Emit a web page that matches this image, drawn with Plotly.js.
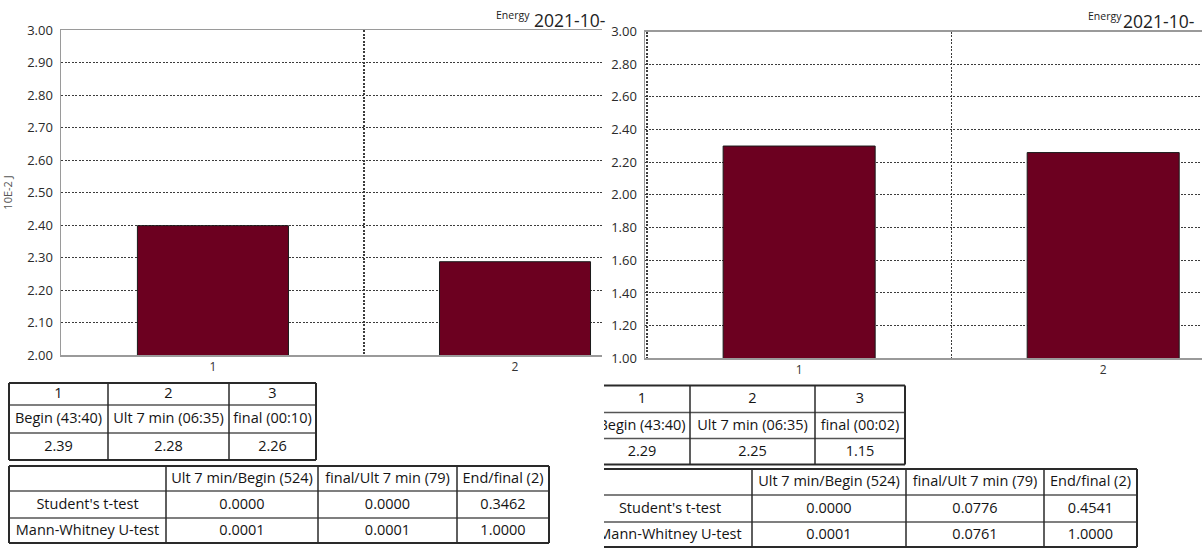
<!DOCTYPE html>
<html>
<head>
<meta charset="utf-8">
<script src="https://cdn.plot.ly/plotly-3.0.1.min.js"></script>
<style>html,body{margin:0;padding:0;background:#fff;}#chart{width:1202px;height:548px;}</style>
</head>
<body>
<div id="chart"></div>
<script>
// ---------- data ----------
const categories = ["1", "2"];
const leftBarValues = [2.398, 2.287];
const rightBarValues = [2.299, 2.259];

const phaseHeader = ["1", "2", "3"];
const leftPhases = ["Begin (43:40)", "Ult 7 min (06:35)", "final (00:10)"];
const leftMeans = ["2.39", "2.28", "2.26"];
const rightPhases = ["Begin (43:40)", "Ult 7 min (06:35)", "final (00:02)"];
const rightMeans = ["2.29", "2.25", "1.15"];

const testColumns = ["Ult 7 min/Begin (524)", "final/Ult 7 min (79)", "End/final (2)"];
const testNames = ["Student's t-test", "Mann-Whitney U-test"];
const leftTTest = ["0.0000", "0.0000", "0.3462"];
const leftUTest = ["0.0001", "0.0001", "1.0000"];
const rightTTest = ["0.0000", "0.0776", "0.4541"];
const rightUTest = ["0.0001", "0.0761", "1.0000"];

const yTitle = "10E-2 J";
const titleSmall = "Energy";
const titleBig = "2021-10-";

// ---------- layout helpers ----------
const W = 1202, H = 548;
const px = x => x / W;
const py = y => 1 - y / H;
const FONT = "Open Sans, Noto Sans, sans-serif";
const barColor = "#6c0020";
const gridColor = "#3c3c3c";
const lineColor = "#9a9a9a";
const gridDash = "2px,1.5px";

const shapes = [];
const traces = [];

traces.push({
  type: "bar", x: categories, y: leftBarValues, xaxis: "x", yaxis: "y",
  width: 0.5, marker: {color: barColor, line: {color: "#1a1a1a", width: 1}},
  hoverinfo: "skip", showlegend: false
});
traces.push({
  type: "bar", x: categories, y: rightBarValues, xaxis: "x2", yaxis: "y2",
  width: 0.5, marker: {color: barColor, line: {color: "#1a1a1a", width: 1}},
  hoverinfo: "skip", showlegend: false
});

function addTable(cols, rows, cells, xa, ya) {
  const nR = rows.length - 1, nC = cols.length - 1;
  rows.forEach((y, i) => {
    const outer = (i === 0 || i === nR);
    shapes.push({type: "line", xref: xa, yref: ya, x0: cols[0], x1: cols[nC], y0: y, y1: y,
      line: {color: outer ? "#2a2a2a" : "#555", width: outer ? 2 : 1.5}, layer: "above"});
  });
  cols.forEach((x, j) => {
    const outer = (j === 0 || j === nC);
    shapes.push({type: "line", xref: xa, yref: ya, x0: x, x1: x, y0: rows[0], y1: rows[nR],
      line: {color: "#2a2a2a", width: outer ? 2 : 1.5}, layer: "above"});
  });
  const tx = [], ty = [], tt = [];
  cells.forEach((row, i) => {
    row.forEach((txt, j) => {
      tx.push((cols[j] + cols[j + 1]) / 2);
      ty.push((rows[i] + rows[i + 1]) / 2 + 0.5);
      tt.push(txt);
    });
  });
  traces.push({
    type: "scatter", mode: "text", x: tx, y: ty, text: tt, xaxis: xa, yaxis: ya,
    textposition: "middle center", cliponaxis: true,
    textfont: {family: FONT, size: 14.5, color: "#141414"},
    hoverinfo: "skip", showlegend: false
  });
}

// left tables
addTable([9, 108, 229, 316], [383, 405, 433, 460],
  [phaseHeader, leftPhases, leftMeans], "x3", "y3");
addTable([9, 166, 318, 457, 549], [466, 491, 518, 543],
  [[""].concat(testColumns), [testNames[0]].concat(leftTTest), [testNames[1]].concat(leftUTest)], "x3", "y3");
// right tables
addTable([594, 690, 815, 905], [385.5, 412.5, 438.5, 464.5],
  [phaseHeader, rightPhases, rightMeans], "x4", "y4");
addTable([588, 752, 906, 1044, 1137], [469, 495, 522, 547],
  [[""].concat(testColumns), [testNames[0]].concat(rightTTest), [testNames[1]].concat(rightUTest)], "x4", "y4");

function xAxis(domain, range, anchor) {
  return {
    domain: domain, range: range, type: "category", tickson: "boundaries",
    showgrid: true, gridcolor: gridColor, griddash: gridDash, gridwidth: 1.3,
    showline: true, mirror: true, linecolor: lineColor, linewidth: 1.5,
    ticks: "", zeroline: false, anchor: anchor, fixedrange: true,
    tickfont: {family: FONT, size: 12, color: "#333"}
  };
}
function yAxis(domain, range, dtick, anchor, title) {
  const a = {
    domain: domain, range: range, tick0: range[0], dtick: dtick, tickformat: ".2f",
    showgrid: true, gridcolor: gridColor, griddash: gridDash, gridwidth: 1,
    showline: true, linecolor: lineColor, linewidth: 1.5, zeroline: false,
    ticks: "", ticklabelstandoff: 4, anchor: anchor, fixedrange: true,
    tickfont: {family: FONT, size: 13, color: "#2a2a2a"}
  };
  if (title) a.title = {text: title, font: {family: FONT, size: 11, color: "#555"}, standoff: 12};
  return a;
}
const hidden = (domain, range, anchor) => ({domain: domain, range: range, visible: false, anchor: anchor, fixedrange: true});

const layout = {
  width: W, height: H, margin: {l: 0, r: 0, t: 0, b: 0},
  paper_bgcolor: "#fff", plot_bgcolor: "rgba(0,0,0,0)",
  font: {family: FONT}, showlegend: false, hovermode: false, bargap: 0,
  xaxis: xAxis([px(61), px(602)], [-0.503, 1.288], "y"),
  yaxis: yAxis([py(355), py(30)], [2, 3], 0.1, "x", yTitle),
  xaxis2: xAxis([px(645), 1], [-0.507, 1.325], "y2"),
  yaxis2: yAxis([py(358.3), py(31.5)], [1, 3], 0.2, "x2", null),
  xaxis3: hidden([0, px(602)], [0, 602], "y3"),
  yaxis3: hidden([0, py(370)], [548, 370], "x3"),
  xaxis4: hidden([px(604), 1], [604, 1202], "y4"),
  yaxis4: hidden([0, py(370)], [548, 370], "x4"),
  shapes: shapes,
  annotations: [
    {xref: "paper", yref: "paper", x: px(494), y: py(15), xanchor: "left", yanchor: "middle",
     text: titleSmall, showarrow: false, font: {family: FONT, size: 10.5, color: "#222"}},
    {xref: "paper", yref: "paper", x: px(532), y: py(20), xanchor: "left", yanchor: "middle",
     text: titleBig, showarrow: false, font: {family: FONT, size: 17.5, color: "#222"}},
    {xref: "paper", yref: "paper", x: px(1086), y: py(16), xanchor: "left", yanchor: "middle",
     text: titleSmall, showarrow: false, font: {family: FONT, size: 10.5, color: "#222"}},
    {xref: "paper", yref: "paper", x: px(1121), y: py(21), xanchor: "left", yanchor: "middle",
     text: titleBig, showarrow: false, font: {family: FONT, size: 17.5, color: "#222"}}
  ]
};

Plotly.newPlot("chart", traces, layout, {displayModeBar: false, staticPlot: true});
</script>
</body>
</html>
